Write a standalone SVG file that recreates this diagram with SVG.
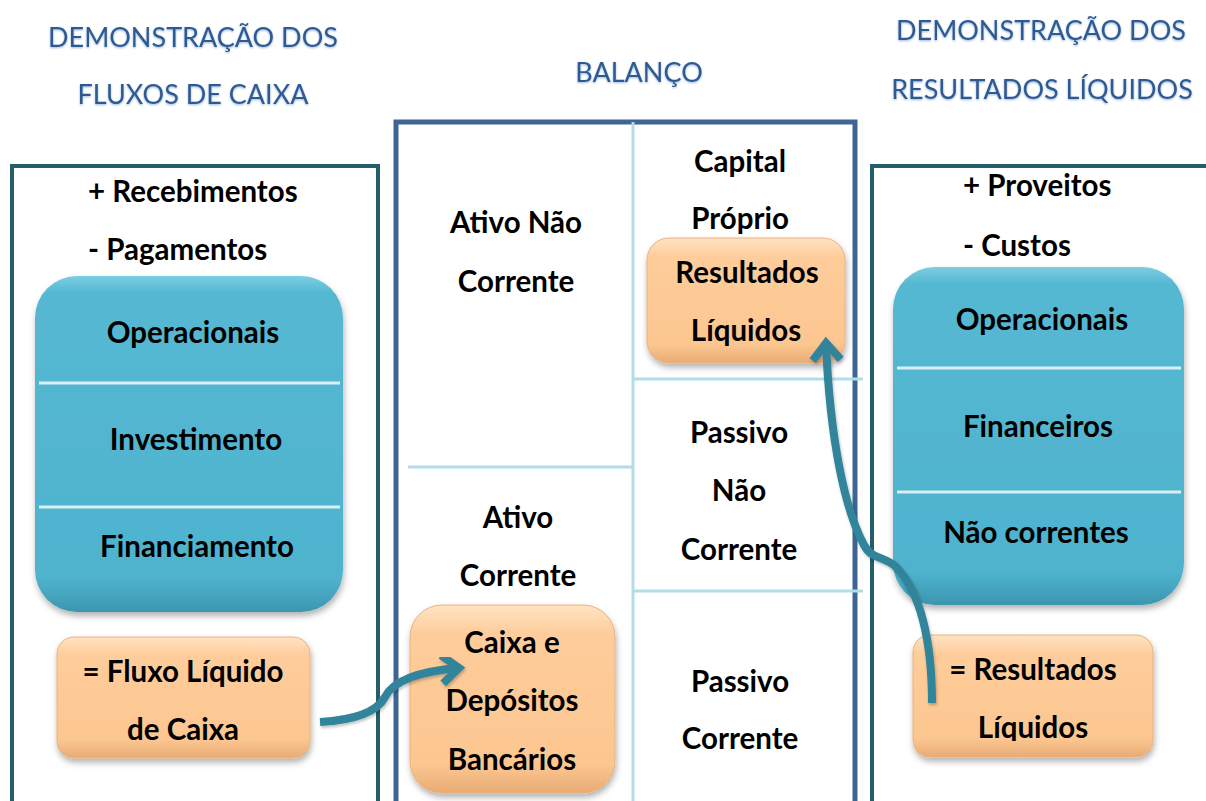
<svg xmlns="http://www.w3.org/2000/svg" width="1206" height="801" viewBox="0 0 1206 801">
<defs>
<style>
.title{font-family:Lato,"Liberation Sans",sans-serif;font-size:27px;fill:#2E5A93;text-anchor:middle;filter:url(#glow)}
.t{font-family:Lato,"Liberation Sans",sans-serif;font-weight:bold;font-size:29.5px;fill:#000;text-anchor:middle}
.ts{font-family:Lato,"Liberation Sans",sans-serif;font-weight:bold;font-size:29.5px;fill:#000;text-anchor:start}
.panel{fill:#fff;stroke:#245E6B;stroke-width:4}
.mid{fill:#fff;stroke:#3D6694;stroke-width:5}
.div{stroke:#B2DDE8;stroke-width:3;fill:none}
.bdiv{stroke:#D9EFF4;stroke-width:3;fill:none}
.blue{fill:url(#gBlue);filter:url(#sh)}
.orange{fill:url(#gOr);stroke:#EBB07A;stroke-width:1;filter:url(#sh)}
.conn{fill:none;stroke:#31849B;stroke-width:8;filter:url(#sh2)}
</style>
<linearGradient id="gBlue" x1="0" y1="0" x2="0" y2="1">
<stop offset="0" stop-color="#7CCDE2"/>
<stop offset="0.05" stop-color="#55B8D2"/>
<stop offset="0.9" stop-color="#4FB3CE"/>
<stop offset="1" stop-color="#3C96AF"/>
</linearGradient>
<linearGradient id="gOr" x1="0" y1="0" x2="0" y2="1">
<stop offset="0" stop-color="#FFE3C4"/>
<stop offset="0.15" stop-color="#FECD9B"/>
<stop offset="0.85" stop-color="#FCC690"/>
<stop offset="1" stop-color="#E8AB74"/>
</linearGradient>
<filter id="sh" x="-10%" y="-10%" width="120%" height="130%">
<feDropShadow dx="1" dy="4" stdDeviation="3" flood-color="#000" flood-opacity="0.3"/>
</filter>
<filter id="sh2" x="-20%" y="-20%" width="140%" height="140%">
<feDropShadow dx="1" dy="2" stdDeviation="1.5" flood-color="#000" flood-opacity="0.25"/>
</filter>
<filter id="glow" x="-5%" y="-20%" width="110%" height="140%">
<feDropShadow dx="0" dy="1" stdDeviation="1" flood-color="#7FA3CF" flood-opacity="0.8"/>
</filter>
<marker id="chev" markerUnits="userSpaceOnUse" markerWidth="50" markerHeight="50" viewBox="-25 -25 50 50" refX="0" refY="0" orient="auto">
<path d="M-17,-14 L0,0 L-17,14" fill="none" stroke="#31849B" stroke-width="8" stroke-linejoin="miter"/>
</marker>
<clipPath id="clipR"><rect x="900" y="620" width="280" height="121"/></clipPath>
</defs>
<rect width="1206" height="801" fill="#fff"/>

<g id="title-left">
<text class="title" x="193" y="47">DEMONSTRAÇÃO DOS</text>
<text class="title" x="193" y="104">FLUXOS DE CAIXA</text>
</g>
<g id="title-mid">
<text class="title" x="639" y="82">BALANÇO</text>
</g>
<g id="title-right">
<text class="title" x="1041" y="40">DEMONSTRAÇÃO DOS</text>
<text class="title" x="1042" y="99">RESULTADOS LÍQUIDOS</text>
</g>

<g id="panel-left">
<rect class="panel" x="12" y="166" width="366" height="700"/>
<text class="ts" x="88" y="202">+ Recebimentos</text>
<text class="ts" x="88" y="260">- Pagamentos</text>
</g>
<g id="fluxos-box">
<rect class="blue" x="35" y="276" width="308" height="336" rx="42"/>
<line class="bdiv" x1="39" y1="383" x2="340" y2="383"/>
<line class="bdiv" x1="39" y1="507" x2="340" y2="507"/>
<text class="t" x="193" y="343">Operacionais</text>
<text class="t" x="196" y="450">Investimento</text>
<text class="t" x="197" y="557">Financiamento</text>
</g>
<g id="fluxo-liquido">
<rect class="orange" x="57" y="637" width="253" height="121" rx="17"/>
<text class="t" x="183" y="682">= Fluxo Líquido</text>
<text class="t" x="183" y="740">de Caixa</text>
</g>

<g id="panel-mid">
<rect class="mid" x="396" y="122" width="459" height="740"/>
<line class="div" x1="633" y1="122" x2="633" y2="801"/>
<line class="div" x1="408" y1="467" x2="633" y2="467"/>
<line class="div" x1="633" y1="379" x2="863" y2="379"/>
<line class="div" x1="633" y1="591" x2="863" y2="591"/>
<text class="t" x="516" y="233">Ativo Não</text>
<text class="t" x="516" y="292">Corrente</text>
<text class="t" x="740" y="172">Capital</text>
<text class="t" x="740" y="229">Próprio</text>
<text class="t" x="739" y="443">Passivo</text>
<text class="t" x="739" y="501">Não</text>
<text class="t" x="739" y="560">Corrente</text>
<text class="t" x="518" y="528">Ativo</text>
<text class="t" x="518" y="586">Corrente</text>
<text class="t" x="740" y="692">Passivo</text>
<text class="t" x="740" y="749">Corrente</text>
</g>
<g id="resultados-balanco">
<rect class="orange" x="647" y="238" width="198" height="125" rx="22"/>
<text class="t" x="747" y="283">Resultados</text>
<text class="t" x="746" y="341">Líquidos</text>
</g>
<g id="caixa-depositos">
<rect class="orange" x="410" y="605" width="205" height="188" rx="32"/>
<text class="t" x="512" y="653">Caixa e</text>
<text class="t" x="512" y="711">Depósitos</text>
<text class="t" x="512" y="770">Bancários</text>
</g>

<g id="panel-right">
<rect class="panel" x="872" y="166" width="400" height="700"/>
<text class="ts" x="963" y="196">+ Proveitos</text>
<text class="ts" x="963" y="256">- Custos</text>
</g>
<g id="resultados-box">
<rect class="blue" x="893" y="267" width="291" height="338" rx="42"/>
<line class="bdiv" x1="897" y1="368" x2="1181" y2="368"/>
<line class="bdiv" x1="897" y1="492" x2="1181" y2="492"/>
<text class="t" x="1042" y="330">Operacionais</text>
<text class="t" x="1038" y="437">Financeiros</text>
<text class="t" x="1036" y="543">Não correntes</text>
</g>
<g id="resultados-liquidos">
<rect class="orange" x="913" y="635" width="240" height="122" rx="17"/>
<text class="t" x="1033" y="680">= Resultados</text>
<text class="t" x="1033" y="738" clip-path="url(#clipR)">Líquidos</text>
</g>

<g id="connectors">
<path class="conn" d="M320,722 C355,720 377,712 385,697 C393,681 420,671 459,668" marker-end="url(#chev)"/>
<path class="conn" d="M932,703 C932,640 920,590 895,566 C882,555 872,560 864,545 C845,510 830,440 826,343" marker-end="url(#chev)"/>
</g>
</svg>
